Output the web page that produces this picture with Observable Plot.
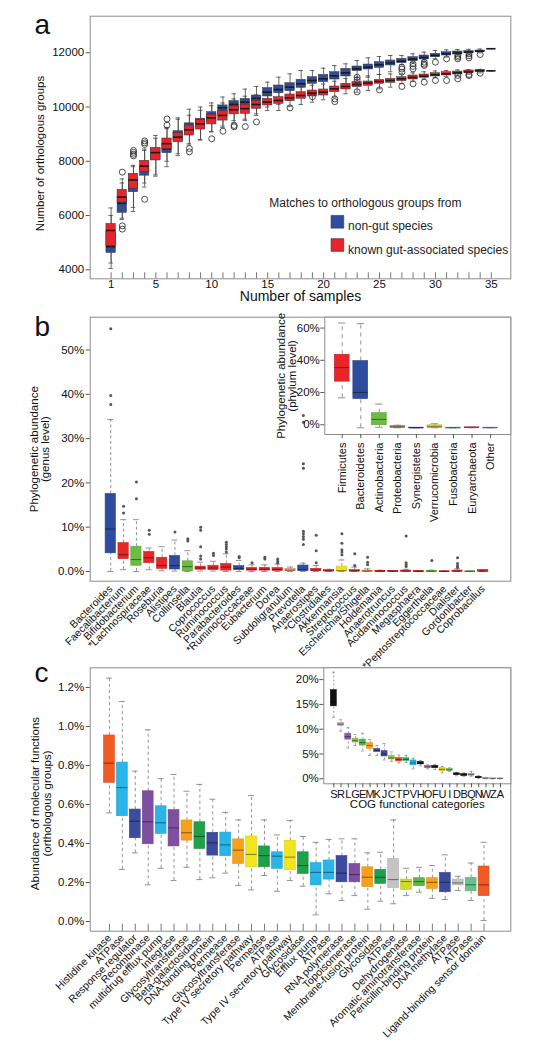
<!DOCTYPE html>
<html><head><meta charset="utf-8">
<script src="https://cdn.jsdelivr.net/npm/d3@7"></script>
<script src="https://cdn.jsdelivr.net/npm/@observablehq/plot@0.6"></script>
<style>
body{margin:0;background:#fff;}
#root{position:relative;width:537px;height:1048px;overflow:hidden;background:#fff;}
</style></head><body><div id="root"></div>
<script>
// ---------------- DATA: panel a ----------------
const samplesN = d3.range(1, 36);
const panelAYTicks = [4000, 6000, 8000, 10000, 12000];
const nonGutLo  = [4050,5850,6150,7050,7500,8000,8280,8600,8800,9100,9300,9500,9550,9750,10000,10100,10250,10350,10500,10600,10700,10850,11000,11100,11200,11300,11560,11640,11700,11780,11840,11880,11940,12000,12150];
const nonGutQ1  = [4620,6100,6860,7470,8050,8300,8750,9050,9250,9450,9700,9900,9980,10216,10389,10511,10585,10708,10856,10917,11015,11126,11323,11384,11446,11532,11618,11691,11753,11839,11900,11937,11986,12035,12150];
const nonGutMed = [4850,6450,7130,7690,8250,8460,8950,9300,9420,9650,9970,10100,10180,10320,10548,10647,10733,10856,10979,11040,11150,11261,11409,11470,11556,11630,11691,11765,11827,11900,11962,11990,12023,12060,12150];
const nonGutQ3  = [5400,6700,7350,7800,8450,8650,9110,9400,9570,9810,10060,10220,10300,10425,10696,10794,10880,11003,11101,11187,11286,11409,11495,11568,11654,11716,11777,11839,11900,11962,12023,12048,12060,12085,12150];
const nonGutHi  = [6000,7200,7800,8400,8850,9200,9600,9920,10000,10150,10370,10490,10660,10757,10917,11101,11224,11347,11347,11433,11532,11593,11716,11814,11863,11900,11900,11962,12023,12085,12110,12120,12130,12140,12150];
const gutLo  = [4250,5900,6300,7200,7450,7800,8210,8650,8780,9080,9250,9420,9500,9690,9872,9872,10020,10094,10180,10266,10364,10487,10548,10610,10671,10733,10870,10950,11030,11080,11120,11160,11210,11260,11335];
const gutQ1  = [4880,6480,6980,7600,8030,8450,8700,8950,9170,9360,9500,9730,9750,9934,10057,10118,10216,10303,10389,10425,10548,10647,10733,10782,10856,10893,10954,11015,11077,11126,11163,11200,11249,11298,11335];
const gutMed = [5450,6680,7310,7820,8320,8650,8890,9160,9380,9600,9690,9900,9940,10094,10180,10241,10339,10425,10511,10548,10671,10757,10831,10880,10942,10979,11040,11089,11138,11187,11224,11261,11298,11335,11335];
const gutQ3  = [5690,6950,7540,8020,8500,8840,9040,9320,9520,9720,9850,10020,10090,10216,10303,10364,10462,10548,10610,10647,10757,10856,10917,10942,11003,11040,11101,11163,11200,11249,11286,11310,11347,11372,11335];
const gutHi  = [6280,7350,7850,8450,8950,9250,9550,9700,9880,10050,10150,10300,10400,10450,10450,10550,10650,10750,10800,10850,10950,11050,11100,11150,11200,11220,11224,11260,11300,11330,11350,11370,11380,11390,11335];
const outlierN = [2,2,2,3,3,3,3,4,4,4,4,6,6,8,8,10,11,12,12,13,14,17,19,21,21,23,23,23,25,27,27,27,27,28,28,28,28,29,29,29,29,30,30,31,31,32,32,32,32,32,33,33,33,33,33,34,34];
const outlierV = [7600,5620,5500,8400,8330,8260,8200,8750,8680,8620,6600,9560,9330,8470,8350,8830,9110,9320,9270,9280,9450,9970,10380,10303,10200,11100,11000,10560,10634,11470,11400,11286,10757,11593,11500,11409,10856,11654,11580,11532,10917,11654,10979,11777,10979,11900,11840,11777,11163,11040,11962,11890,11814,11200,11160,11937,11249];

// ---------------- DATA: panel b ----------------
const genera = ["Bacteroides","Faecalibacterium","Bifidobacterium","*Lachnospiraceae","Roseburia","Alistipes","Collinsella","Blautia","Coprococcus","Ruminococcus","Parabacteroides","*Ruminococcaceae","Eubacterium","Dorea","Subdoligranulum","Prevotella","Anaerostipes","*Clostridiales","Akkermansia","Streptococcus","Escherichia/Shigella","Holdemania","Anaerotruncus","Acidaminococcus","Megasphaera","Eggerthella","*Peptostreptococcaceae","Dialister","Gordonibacter","Coprobacillus"];
const genusPhylum = ["Bacteroidetes","Firmicutes","Actinobacteria","Firmicutes","Firmicutes","Bacteroidetes","Actinobacteria","Firmicutes","Firmicutes","Firmicutes","Bacteroidetes","Firmicutes","Firmicutes","Firmicutes","Firmicutes2","Bacteroidetes","Firmicutes","Firmicutes","Verrucomicrobia","Firmicutes","Proteobacteria2","Firmicutes","Firmicutes","Firmicutes","Firmicutes","Actinobacteria","Firmicutes","Firmicutes","Actinobacteria","Firmicutes"];
const genusLo  = [0,0.4,0,0.4,0.15,0.1,0,0.1,0.1,0,0,0,0,0,0,0,0,0,0,0,0,0,0,0,0,0,0,0,0,0];
const genusQ1  = [4.1,2.8,1.3,1.9,0.6,0.45,0,0.4,0.3,0.2,0.3,0.2,0.2,0.15,0.1,0.1,0.15,0.05,0,0,0,0,0,0,0,0,0,0,0,0];
const genusMed = [9.6,3.8,2.7,3.1,1.35,1.3,1.1,0.8,0.8,1.0,0.7,0.5,0.5,0.45,0.3,0.4,0.3,0.15,0.2,0.15,0.1,0.05,0.05,0.1,0.03,0.05,0.02,0.1,0.02,0.1];
const genusQ3  = [17.5,6.4,5.6,4.4,3.1,3.5,2.3,1.1,1.3,1.7,1.2,0.8,0.8,0.75,0.6,1.35,0.6,0.3,1.1,0.3,0.2,0.15,0.1,0.2,0.1,0.1,0.05,0.2,0.05,0.3];
const genusHi  = [34.3,11.7,11.7,5.3,5.6,7.1,4.7,2.1,2.3,4.0,2.5,1.5,1.5,1.7,1.0,1.9,1.35,0.5,2.6,1.0,0.6,0.3,0.2,0.5,0.2,0.3,0.1,0.6,0.1,0.4];
const genusOutIdx = [0,0,0,1,1,2,2,3,3,5,6,6,7,7,7,7,7,8,8,9,9,9,9,9,10,10,11,12,12,13,13,13,15,15,15,15,15,15,15,15,15,16,16,16,18,18,18,18,18,19,19,20,20,20,23,23,23,23,25,27,27,27,27];
const genusOutVal = [54.8,39.7,37.7,14.7,13.2,20.2,16.4,9.3,8.4,8.9,7.4,6.9,10.0,9.3,5.6,3.5,2.8,4.1,3.6,6.6,6.1,5.6,5.1,4.4,3.4,3.1,2.0,3.2,2.8,2.8,2.3,1.9,35.2,33.7,24.3,23.3,9.1,8.5,7.9,7.3,6.1,8.2,4.7,2.0,8.5,6.4,4.9,4.4,3.8,4.0,1.35,3.2,2.1,1.5,8.0,2.0,1.5,1.1,2.5,3.1,1.8,1.3,0.9];

const phyla = ["Firmicutes","Bacteroidetes","Actinobacteria","Proteobacteria","Synergistetes","Verrucomicrobia","Fusobacteria","Euryarchaeota","Other"];
const phylumLo  = [18.6,0,0.3,0,0,0,0,0,0];
const phylumQ1  = [28.6,17.8,1.6,0.2,0,0.1,0,0,0];
const phylumMed = [37.3,21.9,5.2,0.5,0.02,0.6,0.02,0.2,0.05];
const phylumQ3  = [45.3,41.4,9.1,1.0,0.08,1.5,0.08,0.4,0.1];
const phylumHi  = [65,64.6,14.7,1.6,0.1,2.5,0.1,0.6,0.2];

// ---------------- DATA: panel c ----------------
const functions = ["Histidine kinase","ATPase","Response regulator","Recombinase","multidrug efflux pump","Integrase","Glycosyltransferase","Beta-galactosidase","DNA-binding protein","Permease","Glycosyltransferase","Type IV secretory pathway","Permease","ATPase","Type IV secretory pathway","Glycosidase","Efflux pump","ATPase","RNA polymerase","Topoisomerase","Membrane-fusion protein","Glycosidase","ATPase","Dehydrogenase","Aromatic aminotransferase","Penicillin-binding protein","DNA methylase","ATPase","ATPase","Ligand-binding sensor domain"];
const fnLo  = [0.557,0.267,0.352,0.188,0.273,0.210,0.278,0.215,0.224,0.248,0.185,0.162,0.236,0.155,0.210,0.181,0.034,0.142,0.108,0.133,0.063,0.104,0.091,0.133,0.150,0.119,0.113,0.159,0.108,0.005];
const fnQ1  = [0.711,0.540,0.427,0.396,0.449,0.385,0.415,0.372,0.338,0.335,0.295,0.278,0.278,0.270,0.263,0.244,0.185,0.215,0.201,0.201,0.176,0.193,0.172,0.162,0.181,0.167,0.150,0.185,0.155,0.130];
const fnMed = [0.812,0.687,0.514,0.511,0.506,0.480,0.455,0.436,0.403,0.393,0.366,0.344,0.338,0.335,0.330,0.287,0.252,0.252,0.248,0.241,0.227,0.227,0.215,0.205,0.205,0.201,0.201,0.198,0.188,0.188];
const fnQ3  = [0.954,0.815,0.574,0.668,0.591,0.571,0.518,0.509,0.455,0.456,0.421,0.436,0.385,0.355,0.414,0.355,0.300,0.313,0.336,0.295,0.278,0.265,0.321,0.215,0.222,0.222,0.249,0.215,0.224,0.282];
const fnHi  = [1.248,1.128,0.771,0.983,0.733,0.754,0.668,0.703,0.627,0.560,0.521,0.646,0.521,0.444,0.518,0.436,0.406,0.421,0.424,0.424,0.352,0.355,0.521,0.273,0.278,0.287,0.342,0.232,0.300,0.406];

const cogCats = ["S","R","L","G","E","M","K","J","C","T","P","V","H","O","F","U","I","D","B","Q","N","W","Z","A"];
const cogLo  = [12.4,9.6,6.2,6.7,5.6,4.7,4.7,3.8,3.5,3.2,3.3,2.0,2.6,2.0,1.9,1.2,1.5,0.6,0.5,0.5,0.1,0,0,0];
const cogQ1  = [14.6,10.7,7.9,7.3,6.7,6.0,5.4,4.5,3.9,3.5,3.6,2.7,2.9,2.2,2.2,1.5,1.6,0.8,0.6,0.7,0.2,0.05,0.02,0.02];
const cogMed = [15.5,11.0,8.5,7.7,7.3,6.7,5.7,5.0,4.2,3.9,3.9,3.2,3.1,2.4,2.4,1.9,1.8,0.95,0.8,0.8,0.3,0.1,0.05,0.05];
const cogQ3  = [17.9,11.2,9.1,8.1,7.9,7.2,6.0,5.6,4.6,4.2,4.15,3.7,3.4,2.6,2.6,2.2,2.0,1.1,0.95,1.0,0.4,0.15,0.08,0.08];
const cogHi  = [21.5,11.9,10.3,8.9,9.2,7.9,6.7,7.1,5.4,4.8,4.7,4.15,3.7,2.8,2.9,2.5,2.2,1.3,1.2,1.5,0.6,0.2,0.1,0.1];

// ---------------- STYLES ----------------
const FONT = '"Liberation Sans", Arial, Helvetica, sans-serif';
const BLUE = "#2f4d9e", RED = "#e7232b";
const phylumColor = {Firmicutes:"#e8262a", Firmicutes2:"#f3a07e", Bacteroidetes:"#2f4d9e", Actinobacteria:"#6dbd45", Proteobacteria:"#a58a62", Proteobacteria2:"#ee9d3c", Synergistetes:"#3a2f8f", Verrucomicrobia:"#f2e21c", Fusobacteria:"#4aa9b2", Euryarchaeota:"#e2709a", Other:"#5bb8d9"};
const phylumInsetColor = ["#e8262a","#2f4d9e","#6dbd45","#a58a62","#3a2f8f","#d4c82a","#4aa9b2","#e2709a","#5bb8d9"];
const fnColors = ["#f15a24","#29b5e8","#3d4b9f","#7f4f9f","#29b5e8","#7f4f9f","#f7a11a","#1fa04b","#3d4b9f","#29b5e8","#f7a11a","#f2e41d","#1fa04b","#29b5e8","#f2e41d","#1fa04b","#29b5e8","#29b5e8","#3d4b9f","#7f4f9f","#f7a11a","#1fa04b","#c4c4c4","#cddc29","#5cb848","#f7a11a","#3d4b9f","#c4c4c4","#69c18a","#f15a24"];
const cogColors = ["#111111","#a8a8a8","#8e5ba6","#8dc63f","#4db848","#f7a21b","#3c4a9c","#3c4a9c","#8cc63f","#e8402a","#2bb15c","#29abe2","#111111","#9a6aa8","#111111","#e8d21d","#6cc070","#111111","#111111","#9a9a9a","#111111","#aaaaaa","#aaaaaa","#aaaaaa"];
const baseStyle = {fontFamily: FONT, fontSize: "11.5px", background: "transparent", color: "#111", overflow: "visible"};

const root = document.getElementById("root");
function place(svg, left, top) {
  svg.style.position = "absolute";
  svg.style.left = left + "px";
  svg.style.top = top + "px";
  svg.style.maxWidth = "none";
  root.appendChild(svg);
}
function rowsOf(xs, lo, q1, med, q3, hi, colors) {
  return xs.map((x, i) => ({x, lo: lo[i], q1: q1[i], med: med[i], q3: q3[i], hi: hi[i], c: colors[i]}));
}
function boxMarks(rows, o) {
  const {hw, cw, dash, whisk = "#777", boxStroke, boxW = 0.6, medStroke, medW = 1.2, whiskW = 0.8} = o;
  return [
    Plot.ruleX(rows, {x: "x", y1: "q3", y2: "hi", stroke: whisk, strokeWidth: whiskW, strokeDasharray: dash}),
    Plot.ruleX(rows, {x: "x", y1: "lo", y2: "q1", stroke: whisk, strokeWidth: whiskW, strokeDasharray: dash}),
    Plot.ruleY(rows, {y: "hi", x1: d => d.x - cw, x2: d => d.x + cw, stroke: whisk, strokeWidth: whiskW}),
    Plot.ruleY(rows, {y: "lo", x1: d => d.x - cw, x2: d => d.x + cw, stroke: whisk, strokeWidth: whiskW}),
    Plot.rect(rows, {x1: d => d.x - hw, x2: d => d.x + hw, y1: "q1", y2: "q3", fill: "c", stroke: boxStroke, strokeWidth: boxW}),
    Plot.ruleY(rows, {y: "med", x1: d => d.x - hw, x2: d => d.x + hw, stroke: medStroke, strokeWidth: medW})
  ];
}
const darker = k => d => d3.color(d.c).darker(k).formatHex();

// ================= PANEL A =================
{
  const blueRows = rowsOf(samplesN, nonGutLo, nonGutQ1, nonGutMed, nonGutQ3, nonGutHi, samplesN.map(() => BLUE));
  const redRows = rowsOf(samplesN, gutLo, gutQ1, gutMed, gutQ3, gutHi, samplesN.map(() => RED));
  const outliers = outlierN.map((n, i) => ({n, v: outlierV[i]}));
  const frameH = 278.3 - 15.7;
  const svg = Plot.plot({
    width: 537, height: 310, marginLeft: 89.7, marginRight: 26.7, marginTop: 15.7, marginBottom: 31.7,
    x: {domain: [-0.87, 36.74], axis: null},
    y: {domain: [3668, 13349], axis: null},
    color: {type: "identity"},
    style: baseStyle,
    marks: [
      Plot.frame({stroke: "#8c8c8c"}),
      Plot.axisY({ticks: panelAYTicks, tickFormat: d => String(d), tickSize: 4, tickPadding: 2, label: null, stroke: "#555"}),
      Plot.axisX({ticks: samplesN, tickFormat: d => (d === 1 || d % 5 === 0) ? String(d) : "", tickSize: 0, tickPadding: 1, label: null, fontSize: 11.5}),
      Plot.ruleX(samplesN, {x: d => d, insetTop: frameH - 6, stroke: "#555", strokeWidth: 0.8}),
      ...boxMarks(blueRows, {hw: 0.42, cw: 0.2, dash: null, whisk: "#444", boxStroke: "#333", boxW: 0.5, medStroke: "#1a1a1a", medW: 1.6}),
      ...boxMarks(redRows, {hw: 0.42, cw: 0.2, dash: null, whisk: "#444", boxStroke: "#333", boxW: 0.5, medStroke: "#1a1a1a", medW: 1.6}),
      Plot.dot(outliers, {x: "n", y: "v", r: 3, stroke: "#222", strokeWidth: 0.8, fill: "none"}),
      Plot.text(["Number of samples"], {text: d => d, frameAnchor: "bottom", dy: 22.5, fontSize: 14}),
      Plot.text(["Number of orthologous groups"], {text: d => d, frameAnchor: "left", textAnchor: "middle", rotate: -90, dx: -50.3, dy: 6, fontSize: 11.5}),
      Plot.text(["a"], {text: d => d, frameAnchor: "top-left", dx: -55.7, dy: 17.8, fontSize: 28, textAnchor: "start", lineAnchor: "bottom"}),
      Plot.text(["Matches to orthologous groups from"], {text: d => d, frameAnchor: "top-left", dx: 179.1, dy: 182.6, fontSize: 12, textAnchor: "start", fill: "#222"}),
      Plot.dot([0], {frameAnchor: "top-left", dx: 247.2, dy: 205.6, symbol: "square", r: 7.17, fill: BLUE, stroke: "#333", strokeWidth: 0.6}),
      Plot.dot([0], {frameAnchor: "top-left", dx: 247.2, dy: 228.8, symbol: "square", r: 7.17, fill: RED, stroke: "#333", strokeWidth: 0.6}),
      Plot.text(["non-gut species"], {text: d => d, frameAnchor: "top-left", dx: 257.9, dy: 205, fontSize: 12, textAnchor: "start", fill: "#222"}),
      Plot.text(["known gut-associated species"], {text: d => d, frameAnchor: "top-left", dx: 257.9, dy: 229.3, fontSize: 12, textAnchor: "start", fill: "#222"})
    ]
  });
  place(svg, 0, 0);
}

// ================= PANEL B (main) =================
{
  const idx = d3.range(genera.length);
  const rows = rowsOf(idx, genusLo, genusQ1, genusMed, genusQ3, genusHi, genusPhylum.map(p => phylumColor[p]));
  const outs = genusOutIdx.map((i, k) => ({i, v: genusOutVal[k]}));
  const svg = Plot.plot({
    width: 537, height: 370, marginLeft: 89.7, marginRight: 26.7, marginTop: 16.7, marginBottom: 89.3,
    x: {domain: [-1.6, 31.15], axis: null},
    y: {domain: [-2.19, 57.4], axis: null},
    color: {type: "identity"},
    style: baseStyle,
    marks: [
      Plot.frame({stroke: "#8c8c8c"}),
      Plot.axisY({ticks: [0, 10, 20, 30, 40, 50], tickFormat: d => d === 0 ? "0.0%" : d + "%", tickSize: 4, tickPadding: 2, label: null, stroke: "#555"}),
      Plot.axisX({ticks: idx, tickFormat: i => genera[i], tickRotate: -45, textAnchor: "end", lineAnchor: "middle", tickSize: 0, tickPadding: 6, label: null, fontSize: 10.5}),
      ...boxMarks(rows, {hw: 0.4, cw: 0.23, dash: "3,2.5", whisk: "#777", boxStroke: darker(0.4), boxW: 0.6, medStroke: darker(1.6), medW: 1.1}),
      Plot.dot(outs, {x: "i", y: "v", r: 1.5, fill: "#555"}),
      Plot.text(["Phylogenetic abundance\n(genus level)"], {text: d => d, frameAnchor: "left", textAnchor: "middle", rotate: -90, dx: -50.2, fontSize: 11.5, lineHeight: 1.0}),
      Plot.text(["b"], {text: d => d, frameAnchor: "top-left", dx: -55.7, dy: 18.3, fontSize: 28, textAnchor: "start", lineAnchor: "bottom"})
    ]
  });
  place(svg, 0, 300);
}

// ================= PANEL B (inset) =================
{
  const idx = d3.range(phyla.length);
  const rows = rowsOf(idx, phylumLo, phylumQ1, phylumMed, phylumQ3, phylumHi, phylumInsetColor);
  const svg = Plot.plot({
    width: 287, height: 215, marginLeft: 74.3, marginRight: 26.7, marginTop: 16.7, marginBottom: 81,
    x: {domain: [-0.94, 9.09], axis: null},
    y: {domain: [-4.16, 68.6], axis: null},
    color: {type: "identity"},
    style: baseStyle,
    marks: [
      Plot.frame({fill: "white", stroke: "#8c8c8c"}),
      Plot.axisY({ticks: [0, 20, 40, 60], tickFormat: d => d + "%", tickSize: 4, tickPadding: 1, dy: -3, label: null, stroke: "#555"}),
      Plot.axisX({ticks: idx, tickFormat: i => phyla[i], tickRotate: -90, textAnchor: "end", lineAnchor: "middle", tickSize: 4, tickPadding: 4, label: null, fontSize: 11, stroke: "#555"}),
      ...boxMarks(rows, {hw: 0.4, cw: 0.2, dash: "4,4", whisk: "#777", boxStroke: darker(0.4), boxW: 0.6, medStroke: darker(1.6), medW: 1.1}),
      Plot.text(["Phylogenetic abundance\n(phylum level)"], {text: d => d, frameAnchor: "left", textAnchor: "middle", rotate: -90, dx: -37.5, fontSize: 11.5, lineHeight: 0.95})
    ]
  });
  place(svg, 250, 300);
}

// ================= PANEL C (main) =================
{
  const idx = d3.range(functions.length);
  const rows = rowsOf(idx, fnLo, fnQ1, fnMed, fnQ3, fnHi, fnColors);
  const frameH = 930.7 - 667.3;
  const svg = Plot.plot({
    width: 537, height: 398, marginLeft: 89.7, marginRight: 26.7, marginTop: 17.3, marginBottom: 117.3,
    x: {domain: [-1.49, 31.07], axis: null},
    y: {domain: [-0.0497, 1.301], axis: null},
    color: {type: "identity"},
    style: baseStyle,
    marks: [
      Plot.frame({stroke: "#8c8c8c"}),
      Plot.axisY({ticks: [0, 0.2, 0.4, 0.6, 0.8, 1.0, 1.2], tickFormat: d => d3.format(".1f")(d) + "%", tickSize: 4, tickPadding: 2, label: null, stroke: "#555"}),
      Plot.ruleX(idx, {x: d => d, insetTop: frameH - 7, stroke: "#555", strokeWidth: 0.8}),
      Plot.axisX({ticks: idx, tickFormat: i => functions[i], tickRotate: -45, textAnchor: "end", lineAnchor: "middle", tickSize: 0, tickPadding: 5, label: null, fontSize: 10.5}),
      ...boxMarks(rows, {hw: 0.42, cw: 0.23, dash: "3,3", whisk: "#777", boxStroke: darker(0.3), boxW: 0.6, medStroke: darker(1.6), medW: 1.1}),
      Plot.text(["Abundance of molecular functions\n(orthologous groups)"], {text: d => d, frameAnchor: "left", textAnchor: "middle", rotate: -90, dx: -49.5, dy: 4, fontSize: 11.5, lineHeight: 1.05}),
      Plot.text(["c"], {text: d => d, frameAnchor: "top-left", dx: -55.7, dy: 13.7, fontSize: 28, textAnchor: "start", lineAnchor: "bottom"})
    ]
  });
  place(svg, 0, 650);
}

// ================= PANEL C (inset) =================
{
  const idx = d3.range(cogCats.length);
  const rows = rowsOf(idx, cogLo, cogQ1, cogMed, cogQ3, cogHi, cogColors);
  const svg = Plot.plot({
    width: 287, height: 170, marginLeft: 73.3, marginRight: 26.7, marginTop: 17.3, marginBottom: 36.7,
    x: {domain: [-1.38, 24.42], axis: null},
    y: {domain: [-1.01, 22.38], axis: null},
    color: {type: "identity"},
    style: baseStyle,
    marks: [
      Plot.frame({fill: "white", stroke: "#8c8c8c"}),
      Plot.axisY({ticks: [0, 5, 10, 15, 20], tickFormat: d => d + "%", tickSize: 4, tickPadding: 1, label: null, stroke: "#555"}),
      Plot.axisX({ticks: idx, tickFormat: i => cogCats[i], tickSize: 4, tickPadding: 2, label: null, fontSize: 11, stroke: "#555"}),
      ...boxMarks(rows, {hw: 0.42, cw: 0.2, dash: "2,2", whisk: "#888", boxStroke: darker(0.3), boxW: 0.5, medStroke: darker(1.6), medW: 1}),
      Plot.text(["COG functional categories"], {text: d => d, frameAnchor: "bottom", dy: 24.4, fontSize: 11.5})
    ]
  });
  place(svg, 250, 650);
}
</script></body></html>
